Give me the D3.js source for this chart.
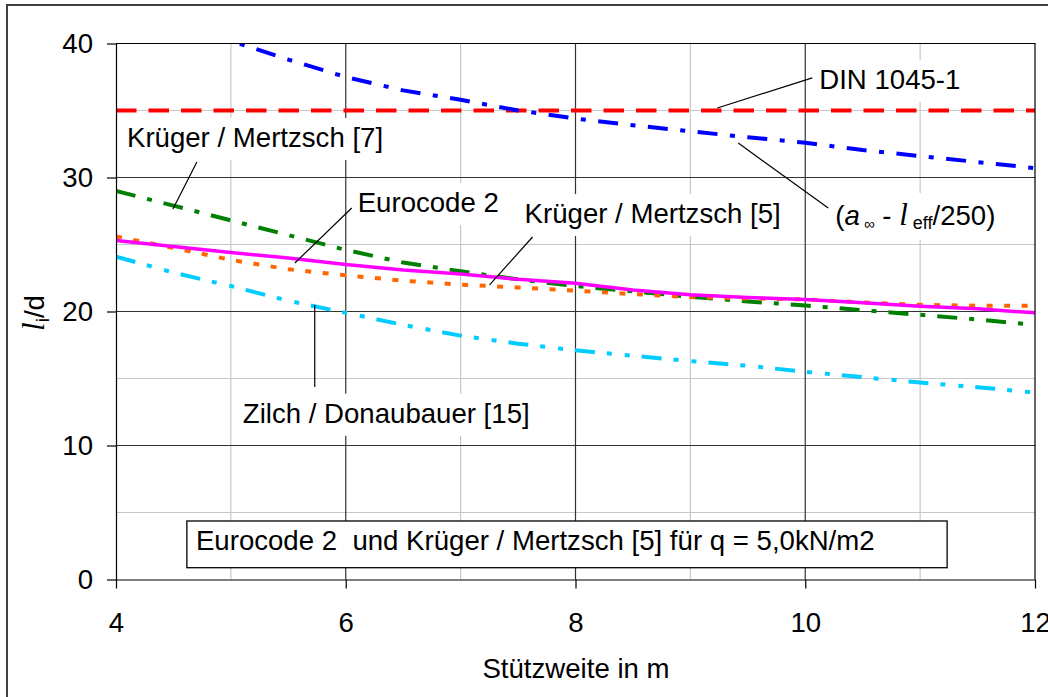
<!DOCTYPE html>
<html><head><meta charset="utf-8">
<script src="https://cdn.jsdelivr.net/npm/d3@7"></script>
<style>body{margin:0;background:#fff} text{font-family:"Liberation Sans",Arial,sans-serif;fill:#000}</style>
</head><body><svg id="c" width="1048" height="697"></svg>
<script>
// ---- data ----
const spans = [4,4.5,5,5.5,6,6.5,7,7.5,8,8.5,9,9.5,10,10.5,11,11.5,12];
const din1045 = [35,35,35,35,35,35,35,35,35,35,35,35,35,35,35,35,35];
const aInfLeff = [43.5,41.8,40.2,38.8,37.5,36.5,35.8,35.0,34.4,33.9,33.45,33.0,32.6,32.05,31.6,31.15,30.7];
const kruegerMertzsch7 = [29.0,27.9,26.8,25.7,24.6,23.65,23.0,22.4,21.9,21.5,21.1,20.75,20.45,20.1,19.75,19.4,19.0];
const eurocode2 = [25.6,24.75,23.85,23.15,22.7,22.3,22.0,21.8,21.55,21.3,21.08,20.98,20.9,20.68,20.5,20.43,20.42];
const kruegerMertzsch5 = [25.3,24.85,24.4,24.0,23.5,23.1,22.8,22.4,22.1,21.6,21.25,21.05,20.9,20.65,20.4,20.2,19.9];
const zilchDonaubauer = [24.1,22.9,21.9,20.8,19.9,19.0,18.2,17.6,17.1,16.7,16.3,15.95,15.5,15.1,14.7,14.35,13.95];
const xTicks = [4,6,8,10,12];
const yTicks = [0,10,20,30,40];
const xMinor = [5,7,9,11];
const yMinor = [5,15,25,35];
const xMajorGrid = [6,8,10];
const yMajorGrid = [10,20,30];

const svg = d3.select('#c');
const x = d3.scaleLinear().domain([4,12]).range([116,1035]);
const y = d3.scaleLinear().domain([0,40]).range([579.5,43.5]);

// outer frame
svg.append('rect').attr('x',7).attr('y',5).attr('width',1060).attr('height',720)
  .attr('fill','#fff').attr('stroke','#404040').attr('stroke-width',2);

const g = svg.append('g');
// grid
g.selectAll('.hm').data(yMinor).join('line').attr('x1',x(4)).attr('x2',x(12))
  .attr('y1',d=>y(d)).attr('y2',d=>y(d)).attr('stroke','#c8c8c8').attr('stroke-width',1.2);
g.selectAll('.vm').data(xMinor).join('line').attr('y1',y(0)).attr('y2',y(40))
  .attr('x1',d=>x(d)).attr('x2',d=>x(d)).attr('stroke','#c8c8c8').attr('stroke-width',1.2);
g.selectAll('.hM').data(yMajorGrid).join('line').attr('x1',x(4)).attr('x2',x(12))
  .attr('y1',d=>y(d)).attr('y2',d=>y(d)).attr('stroke','#333').attr('stroke-width',1.2);
g.selectAll('.vM').data(xMajorGrid).join('line').attr('y1',y(0)).attr('y2',y(40))
  .attr('x1',d=>x(d)).attr('x2',d=>x(d)).attr('stroke','#333').attr('stroke-width',1.2);

const bgLayer = svg.append('g');

// series
svg.append('clipPath').attr('id','pc').append('rect')
  .attr('x',x(4)).attr('y',y(40)).attr('width',x(12)-x(4)).attr('height',y(0)-y(40));
const line = d3.line().x((d,i)=>x(spans[i])).y(d=>y(d));
const series = [
  {v:din1045, c:'#ff0000', w:4, dash:'20.5,12'},
  {v:aInfLeff, c:'#0000ff', w:4, dash:'20,12.5,5,12.5'},
  {v:kruegerMertzsch7, c:'#008000', w:4, dash:'20,12,5,12'},
  {v:zilchDonaubauer, c:'#00ccff', w:4, dash:'20,12,5,13,5,12'},
  {v:eurocode2, c:'#ff6600', w:4, dash:'6,11.5'},
  {v:kruegerMertzsch5, c:'#ff00ff', w:3.5, dash:null}
];
const sg = svg.append('g').attr('clip-path','url(#pc)');
series.forEach(s=>{
  sg.append('path').attr('d',line(s.v)).attr('fill','none').attr('stroke',s.c)
    .attr('stroke-width',s.w).attr('stroke-dasharray',s.dash);
});

// axes
const fs = 27.6;
const ax = svg.append('g').attr('transform',`translate(${x(4)},0)`)
  .call(d3.axisLeft(y).tickValues(yTicks).tickSize(9).tickSizeOuter(0).tickPadding(14));
const bx = svg.append('g').attr('transform',`translate(0,${y(0)})`)
  .call(d3.axisBottom(x).tickValues(xTicks).tickSize(9).tickSizeOuter(0).tickPadding(23.5));
[ax,bx].forEach(a=>{
  a.selectAll('text').style('font-size',fs+'px').style('font-family','"Liberation Sans",Arial,sans-serif').attr('fill','#000');
  a.selectAll('line,path').attr('stroke','#000').attr('stroke-width',1.2);
});
// plot top/right border
svg.append('path').attr('d',`M${x(4)},${y(40)}H${x(12)}V${y(0)}`).attr('fill','none')
  .attr('stroke','#000').attr('stroke-width',1.2);

// axis titles
svg.append('text').attr('x',576).attr('y',678).attr('text-anchor','middle')
  .style('font-size',fs+'px').text('Stützweite in m');
const yt = svg.append('text').attr('transform','translate(44,313) rotate(-90)').attr('text-anchor','middle')
  .style('font-size',fs+'px');
yt.append('tspan').style('font-family','"Liberation Serif",serif').style('font-style','italic').style('font-size','31px').text('l');
yt.append('tspan').attr('dy',5).style('font-size','19px').text('i');
yt.append('tspan').attr('dy',-5).text('/d');

// annotations (positions in data units)
const labels = [
  {t:'DIN 1045-1', x:10.122, y:36.60},
  {t:'Krüger / Mertzsch [7]', x:4.0957, y:32.276},
  {t:'Eurocode 2', x:6.104, y:27.43},
  {t:'Krüger / Mertzsch [5]', x:7.557, y:26.60},
  {t:'Zilch / Donaubauer [15]', x:5.104, y:11.70},
  {t:null, x:10.261, y:26.45}
];
const leaders = [
  [9.235,35.19,10.061,37.43],
  [4.4957,27.65,4.704,31.16],
  [5.557,23.62,6.052,27.72],
  [7.252,21.98,7.626,25.56],
  [5.730,20.49,5.730,14.37],
  [9.417,32.57,10.2,27.72]
];
const tl = svg.append('g');
labels.forEach(L=>{
  const t = tl.append('text').attr('x',x(L.x)).attr('y',y(L.y)).style('font-size',fs+'px');
  if(L.t) t.text(L.t);
  else {
    t.append('tspan').text('(');
    t.append('tspan').style('font-style','italic').text('a');
    t.append('tspan').attr('dy',4).style('font-size','15px').text(' ∞');
    t.append('tspan').attr('dy',-4).text(' - ');
    t.append('tspan').style('font-family','"Liberation Serif",serif').style('font-style','italic').style('font-size','31px').text('l');
    t.append('tspan').attr('dy',4).style('font-size','18px').text(' eff');
    t.append('tspan').attr('dy',-4).text('/250)');
  }
  const b = t.node().getBBox();
  bgLayer.append('rect').attr('x',b.x-7).attr('y',b.y-4).attr('width',b.width+14).attr('height',b.height+11).attr('fill','#fff');
});
svg.append('g').selectAll('line').data(leaders).join('line')
  .attr('x1',d=>x(d[0])).attr('y1',d=>y(d[1])).attr('x2',d=>x(d[2])).attr('y2',d=>y(d[3]))
  .attr('stroke','#000').attr('stroke-width',1.2);

// note box
svg.append('rect').attr('x',x(4.617)).attr('y',y(4.366)).attr('width',x(11.235)-x(4.617)).attr('height',y(0.88)-y(4.366))
  .attr('fill','#fff').attr('stroke','#000').attr('stroke-width',1.3);
svg.append('text').attr('x',x(4.696)).attr('y',y(2.2015)).style('font-size',fs+'px')
  .text('Eurocode 2\u00a0 und Krüger / Mertzsch [5] für q = 5,0kN/m2');
</script></body></html>
